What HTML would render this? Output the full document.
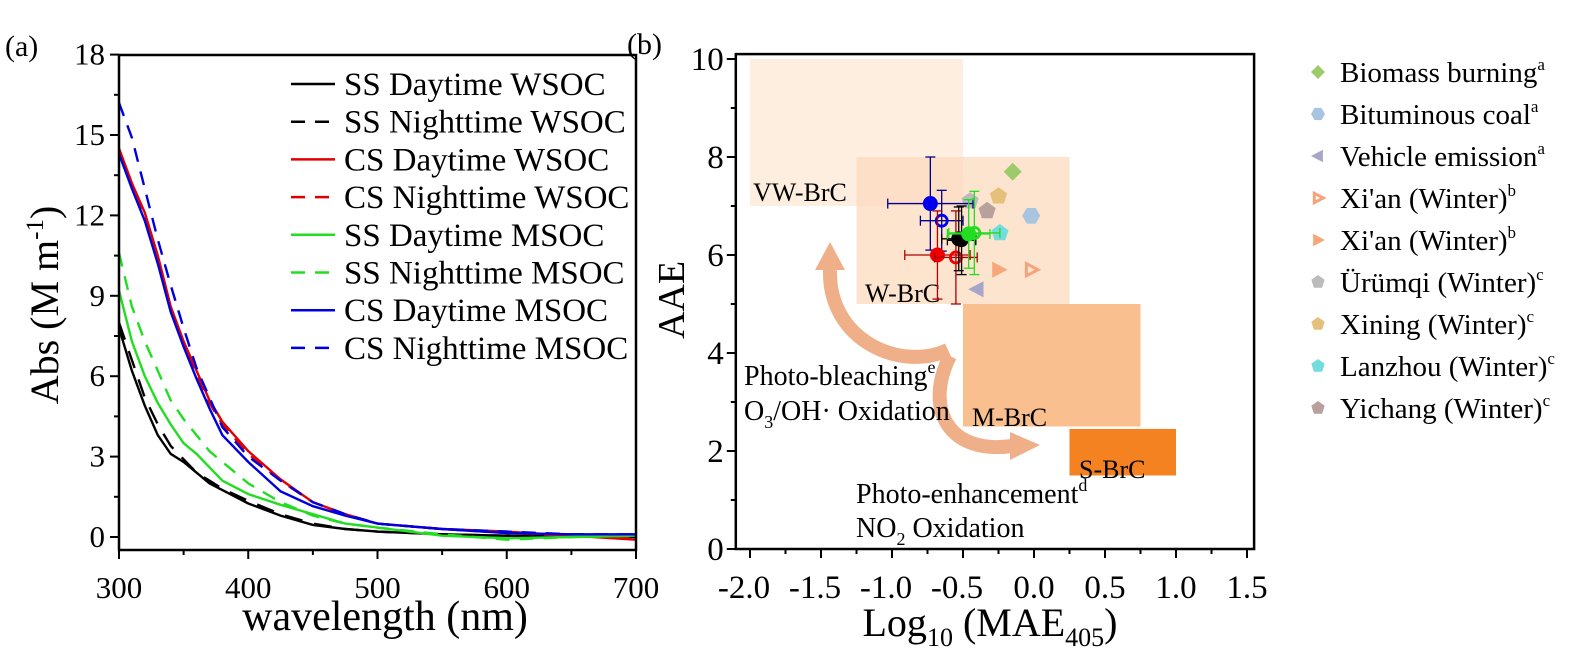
<!DOCTYPE html>
<html><head><meta charset="utf-8"><style>
html,body{margin:0;padding:0;background:#fff;}
svg{display:block;font-family:"Liberation Serif",serif;}
</style></head><body>
<svg id="fig" width="1592" height="669" viewBox="0 0 1592 669" xmlns="http://www.w3.org/2000/svg">
<g id="pa"></g>
<g id="pb"></g>
</svg>
<script>
// ---------- Panel A data ----------
const wavelengths=[300,310,320,330,340,350,360,370,380,400,425,450,475,500,550,600,650,700];
const ssDayWsoc=[7.8,6.2,4.9,3.8,3.1,2.8,2.4,2.0,1.75,1.25,0.8,0.45,0.3,0.2,0.1,0.05,0.02,0.0];
const ssNightWsoc=[8.0,6.6,5.2,4.2,3.4,2.9,2.4,2.1,1.8,1.35,0.85,0.5,0.3,0.2,0.1,0.05,0.02,0.0];
const csDayWsoc=[14.5,13.2,12.1,10.5,8.6,7.3,6.2,5.1,4.3,3.2,2.15,1.3,0.85,0.5,0.3,0.2,0.05,-0.1];
const csNightWsoc=[14.4,13.1,11.9,10.3,8.5,7.2,6.1,5.0,4.2,3.1,2.1,1.3,0.85,0.5,0.3,0.15,0.05,-0.05];
const ssDayMsoc=[9.2,7.3,6.0,5.0,4.2,3.5,3.1,2.6,2.1,1.6,1.2,0.85,0.5,0.35,0.05,-0.05,0.0,0.05];
const ssNightMsoc=[10.6,8.6,7.3,6.2,5.1,4.4,3.8,3.2,2.8,2.0,1.3,0.8,0.5,0.35,0.1,-0.1,0.0,0.05];
const csDayMsoc=[14.3,13.0,11.8,10.2,8.4,7.1,5.9,4.8,3.8,2.8,1.7,1.15,0.8,0.5,0.3,0.15,0.1,0.1];
const csNightMsoc=[16.2,14.9,13.0,11.1,9.4,7.8,6.3,5.2,4.1,3.0,2.1,1.3,0.85,0.5,0.3,0.2,0.1,0.1];
const seriesNames=["SS Daytime WSOC","SS Nighttime WSOC","CS Daytime WSOC","CS Nighttime WSOC","SS Daytime MSOC","SS Nighttime MSOC","CS Daytime MSOC","CS Nighttime MSOC"];
const xTicksA=[300,400,500,600,700];
const yTicksA=[0,3,6,9,12,15,18];

// ---------- Panel B data ----------
const xTicksB=[-2.0,-1.5,-1.0,-0.5,0.0,0.5,1.0,1.5];
const yTicksB=[0,2,4,6,8,10];
const regionNames=["VW-BrC","W-BrC","M-BrC","S-BrC"];
const regionX0=[-2.0,-1.25,-0.5,0.25];
const regionX1=[-0.5,0.25,0.75,1.0];
const regionY0=[7,5,2.5,1.5];
const regionY1=[10,8,5,2.45];
const sampleNames=["cs-day-msoc","cs-night-msoc","cs-day-wsoc","cs-night-wsoc","ss-day-wsoc","ss-night-wsoc","ss-day-msoc","ss-night-msoc"];
const sampleLog=[-0.73,-0.65,-0.68,-0.55,-0.53,-0.51,-0.46,-0.42];
const sampleAAE=[7.05,6.7,6.0,5.95,6.33,6.3,6.43,6.45];
const sampleXErr=[0.3,0.15,0.23,0.15,0.12,0.1,0.15,0.18];
const sampleYErr=[0.95,0.62,0.9,0.95,0.65,0.7,0.7,0.85];
const refNames=["Biomass burning","Bituminous coal","Vehicle emission","Xi'an (Winter)","Xi'an (Winter)","Ürümqi (Winter)","Xining (Winter)","Lanzhou (Winter)","Yichang (Winter)"];
const refSup=["a","a","a","b","b","c","c","c","c"];
const refLog=[-0.15,-0.02,-0.4,-0.02,-0.25,-0.45,-0.25,-0.24,-0.33];
const refAAE=[7.7,6.8,5.3,5.7,5.7,7.1,7.2,6.45,6.9];

const NS="http://www.w3.org/2000/svg";
function mk(parent,tag,attrs,text){const e=document.createElementNS(NS,tag);for(const k in attrs)e.setAttribute(k,attrs[k]);if(text!==undefined)e.textContent=text;parent.appendChild(e);return e;}

// ---------- Panel A ----------
const pa=document.getElementById('pa');
const AL=119,AR=636,AT=55,AB=550;
const ax=v=>AL+(v-300)/400*(AR-AL);
const ay=v=>537-v*26.8;
const colorsA=["#000","#000","#e00000","#e00000","#22dd22","#22dd22","#0000dd","#0000dd"];
const dashA=[null,"18,12",null,"14,10",null,"14,10",null,"14,10"];
const allSeries=[ssDayWsoc,ssNightWsoc,csDayWsoc,csNightWsoc,ssDayMsoc,ssNightMsoc,csDayMsoc,csNightMsoc];
allSeries.forEach((s,i)=>{
  let d=s.map((v,j)=>(j?'L':'M')+ax(wavelengths[j]).toFixed(1)+','+ay(v).toFixed(1)).join('');
  const attrs={d:d,fill:'none',stroke:colorsA[i],'stroke-width':2.4};
  if(dashA[i])attrs['stroke-dasharray']=dashA[i];
  const p=mk(pa,'path',attrs);
  
  
});
const frameA=mk(pa,'rect',{x:AL,y:AT,width:AR-AL,height:AB-AT,fill:'none',stroke:'#000','stroke-width':2.5});


for(let w=300;w<=700;w+=50){const major=(w%100===0);mk(pa,'line',{x1:ax(w),x2:ax(w),y1:AB,y2:AB+(major?9:5),stroke:'#000','stroke-width':2});}
xTicksA.forEach(v=>{const t=mk(pa,'text',{x:ax(v),y:598,'font-size':31,'text-anchor':'middle'},String(v));
 });
for(let v=0;v<=18;v+=1.5){const major=(v%3===0);mk(pa,'line',{x1:AL,x2:AL-(major?9:5),y1:ay(v),y2:ay(v),stroke:'#000','stroke-width':2});}
yTicksA.forEach(v=>{const t=mk(pa,'text',{x:105,y:ay(v)+10,'font-size':31,'text-anchor':'end'},String(v));
 });
const xtA=mk(pa,'text',{x:385,y:630,'font-size':42,'text-anchor':'middle'},'wavelength (nm)');

const ytA=mk(pa,'text',{transform:'translate(58,305) rotate(-90)','font-size':40,'text-anchor':'middle'});

ytA.innerHTML='Abs (M m<tspan dy="-15" font-size="25">-1</tspan><tspan dy="15">)</tspan>';
const lblA=mk(pa,'text',{x:5,y:56,'font-size':30},'(a)');

seriesNames.forEach((n,i)=>{
  const y=84+i*37.7;
  const g=mk(pa,'g',{});
  
  const la={x1:291,x2:335,y1:y,y2:y,stroke:colorsA[i],'stroke-width':2.5};
  if(dashA[i])la['stroke-dasharray']='14,10';
  mk(g,'line',la);
  mk(g,'text',{x:344,y:y+11,'font-size':33},n);
});

// ---------- Panel B ----------
const pb=document.getElementById('pb');
const bx=v=>1034+v*142;
const by=v=>549-v*49;
const BL=bx(-2.1),BR=bx(1.55),BT=by(10.1),BB=549;
const regionFill=["#fdeee0","#fbd9bb","#f9bf8e","#f58220"];
const regionOp=[1,0.7,1,1];
regionNames.forEach((n,i)=>{
  const r=mk(pb,'rect',{x:bx(regionX0[i]),y:by(regionY1[i]),width:bx(regionX1[i])-bx(regionX0[i]),height:by(regionY0[i])-by(regionY1[i]),fill:regionFill[i],'fill-opacity':regionOp[i]});
  
  
});
// arrows
const arrowCol="#efb089";
mk(pb,'path',{d:'M948,350 C900,372 828,340 830,270',fill:'none',stroke:arrowCol,'stroke-width':14});
mk(pb,'polygon',{points:'815,270 845,270 830,242',fill:arrowCol});
mk(pb,'path',{d:'M950,356 C925,405 945,455 1012,446',fill:'none',stroke:arrowCol,'stroke-width':14});
mk(pb,'polygon',{points:'1010,432 1010,460 1040,445',fill:arrowCol});
// region labels
const regLX=[753,865,972,1079],regLY=[201,302,426,478];
regionNames.forEach((n,i)=>{const t=mk(pb,'text',{x:regLX[i],y:regLY[i],'font-size':26},n);
 });
const ann=[[744,385,'Photo-bleaching<tspan dy="-12" font-size="18">e</tspan>'],[744,420,'O<tspan dy="8" font-size="18">3</tspan><tspan dy="-8">/OH· Oxidation</tspan>'],[856,503,'Photo-enhancement<tspan dy="-12" font-size="18">d</tspan>'],[856,537,'NO<tspan dy="8" font-size="18">2</tspan><tspan dy="-8"> Oxidation</tspan>']];
ann.forEach(a=>{const t=mk(pb,'text',{x:a[0],y:a[1],'font-size':28});t.innerHTML=a[2];
 });
// reference markers
const refCol=["#9dcb6b","#a9c4e0","#a7a6c8","#f4a37a","#f7a77a","#bcbcbc","#e4c07a","#74dcdc","#b8a09c"];
const refShape=["diamond","hex","ltri","ortri","rtri","pent","pent","pent","pent"];
function shape(g,type,cx,cy,col,s){
  let pts;
  if(type==='diamond')pts=[[0,-s],[s,0],[0,s],[-s,0]];
  else if(type==='hex'){pts=[];for(let k=0;k<6;k++){const a=Math.PI/3*k;pts.push([s*Math.cos(a),s*Math.sin(a)]);}}
  else if(type==='ltri')pts=[[-s,0],[s*0.7,-s*0.9],[s*0.7,s*0.9]];
  else if(type==='rtri'||type==='ortri')pts=[[s,0],[-s*0.7,-s*0.9],[-s*0.7,s*0.9]];
  else {pts=[];for(let k=0;k<5;k++){const a=-Math.PI/2+2*Math.PI/5*k;pts.push([s*Math.cos(a),s*Math.sin(a)]);}}
  const p=pts.map(q=>(cx+q[0]).toFixed(1)+','+(cy+q[1]).toFixed(1)).join(' ');
  if(type==='ortri'){const sc=0.75;return mk(g,'polygon',{points:pts.map(q=>(cx+q[0]*sc).toFixed(1)+','+(cy+q[1]*sc).toFixed(1)).join(' '),fill:'none',stroke:col,'stroke-width':3});}
  return mk(g,'polygon',{points:p,fill:col});
}
refNames.forEach((n,i)=>{
  const m=shape(pb,refShape[i],bx(refLog[i]),by(refAAE[i]),refCol[i],9);
  
  
});
// sample points with error bars
const sCol=["#0000ee","#0000ee","#ee0000","#ee0000","#000","#000","#22dd22","#22dd22"];
const sErr=["#00008b","#00008b","#b00000","#b00000","#000","#000","#22dd22","#22dd22"];
const sOpen=[false,true,false,true,false,true,false,true];
sampleNames.forEach((n,i)=>{
  const g=mk(pb,'g',{});
  
  
  const cx=bx(sampleLog[i]),cy=by(sampleAAE[i]);
  const x0=bx(sampleLog[i]-sampleXErr[i]),x1=bx(sampleLog[i]+sampleXErr[i]);
  const y0=by(sampleAAE[i]+sampleYErr[i]),y1=by(sampleAAE[i]-sampleYErr[i]);
  const c=sErr[i];
  mk(g,'line',{x1:x0,x2:x1,y1:cy,y2:cy,stroke:c,'stroke-width':1.3});
  mk(g,'line',{x1:cx,x2:cx,y1:y0,y2:y1,stroke:c,'stroke-width':1.3});
  mk(g,'line',{x1:x0,x2:x0,y1:cy-5,y2:cy+5,stroke:c,'stroke-width':1.3});
  mk(g,'line',{x1:x1,x2:x1,y1:cy-5,y2:cy+5,stroke:c,'stroke-width':1.3});
  mk(g,'line',{x1:cx-5,x2:cx+5,y1:y0,y2:y0,stroke:c,'stroke-width':1.3});
  mk(g,'line',{x1:cx-5,x2:cx+5,y1:y1,y2:y1,stroke:c,'stroke-width':1.3});
  if(sOpen[i])mk(g,'circle',{cx:cx,cy:cy,r:5.5,fill:'none',stroke:sCol[i],'stroke-width':2.8});
  else mk(g,'circle',{cx:cx,cy:cy,r:7.5,fill:sCol[i]});
});
const frameB=mk(pb,'rect',{x:BL,y:BT,width:BR-BL,height:BB-BT,fill:'none',stroke:'#000','stroke-width':2.5});


for(let k=-8;k<=6;k++){const v=k*0.25;const major=(k%2===0);mk(pb,'line',{x1:bx(v),x2:bx(v),y1:BB,y2:BB+(major?9:5),stroke:'#000','stroke-width':2});}
xTicksB.forEach(v=>{const t=mk(pb,'text',{x:bx(v)-(v<0?6:0),y:598,'font-size':33,'text-anchor':'middle'},v.toFixed(1));
 });
for(let v=0;v<=10;v+=1){const major=(v%2===0);mk(pb,'line',{x1:BL,x2:BL-(major?9:5),y1:by(v),y2:by(v),stroke:'#000','stroke-width':2});}
yTicksB.forEach(v=>{const t=mk(pb,'text',{x:BL-12,y:by(v)+11,'font-size':33,'text-anchor':'end'},String(v));
 });
const xtB=mk(pb,'text',{x:990,y:636,'font-size':40,'text-anchor':'middle'});
xtB.innerHTML='Log<tspan dy="10" font-size="26">10</tspan><tspan dy="-10"> (MAE</tspan><tspan dy="10" font-size="26">405</tspan><tspan dy="-10">)</tspan>';

const ytB=mk(pb,'text',{transform:'translate(684,300) rotate(-90)','font-size':38,'text-anchor':'middle'},'AAE');

const lblB=mk(pb,'text',{x:627,y:54,'font-size':30},'(b)');

refNames.forEach((n,i)=>{
  const y=72+i*42;
  const g=mk(pb,'g',{});
  
  
  shape(g,refShape[i],1318,y,refCol[i],7);
  const t=mk(g,'text',{x:1340,y:y+10,'font-size':29});
  t.innerHTML=n+'<tspan dy="-12" font-size="17">'+refSup[i]+'</tspan>';
});
</script>
</body></html>
